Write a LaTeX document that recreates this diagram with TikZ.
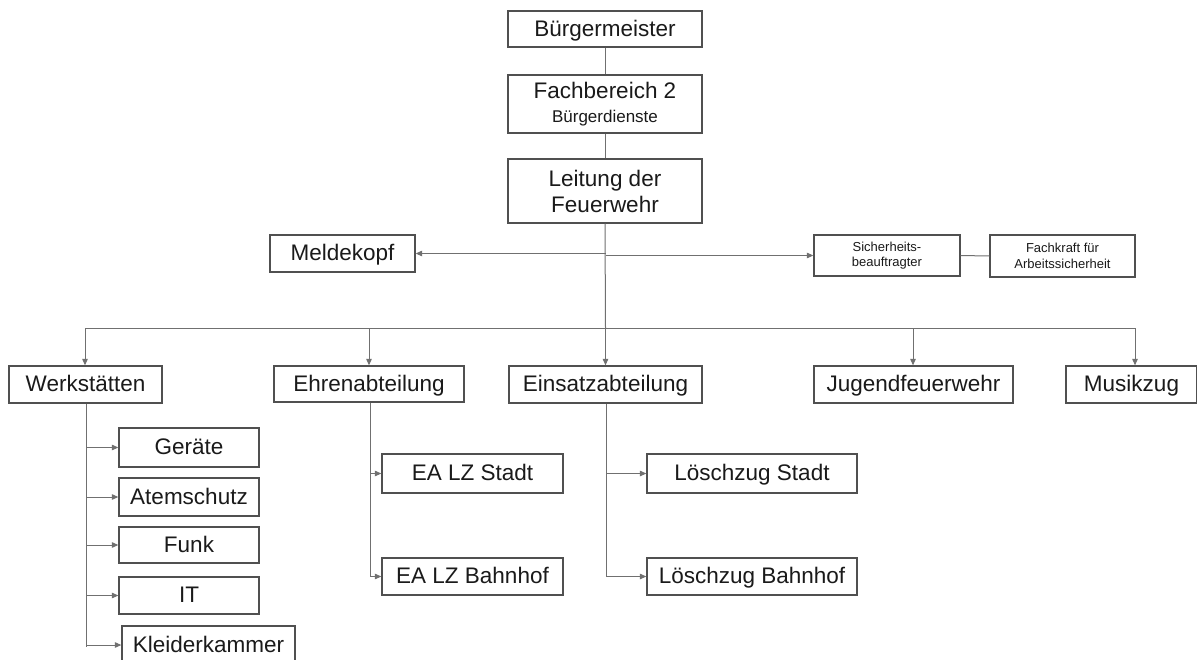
\documentclass[tikz,border=0pt]{standalone}
\usepackage{fontspec}
\setmainfont{Liberation Sans}
\usetikzlibrary{arrows.meta}
\definecolor{boxline}{HTML}{505050}
\definecolor{conline}{HTML}{707070}
\definecolor{txt}{HTML}{1A1A1A}
\begin{document}
\begin{tikzpicture}[x=1pt,y=-1pt,
  box/.style={draw=boxline,line width=1.3pt,fill=white,text=txt,inner sep=0pt,align=center,
    font=\fontsize{22.5}{26}\selectfont},
  one/.style={box,text height=18pt,text depth=4pt},
  smallbox/.style={box,font=\fontsize{13}{15.5}\selectfont},
  con/.style={draw=conline,line width=1pt},
  arr/.style={con,-{Triangle[length=6.5pt,width=5.5pt]}}]
\clip (0,0) rectangle (1197,659);
\fill[white] (0,0) rectangle (1197,659);
% top chain
\node[one,minimum width=194pt,minimum height=36pt] (bm) at (605,29) {Bürgermeister};
\node[box,minimum width=194pt,minimum height=58pt] (fb) at (605,104) {Fachbereich 2\\[-2pt]{\fontsize{17}{19}\selectfont Bürgerdienste}};
\node[box,minimum width=194pt,minimum height=64pt] (lt) at (605,191) {Leitung der\\Feuerwehr};
% staff
\node[one,minimum width=145pt,minimum height=37pt] (mk) at (342.5,253.5) {Meldekopf};
\node[smallbox,minimum width=146pt,minimum height=41pt] (sb) at (887,255.5) {Sicherheits-\\beauftragter};
\node[smallbox,minimum width=145pt,minimum height=42pt] (fk) at (1062.5,256) {Fachkraft für\\Arbeitssicherheit};
% second level
\node[one,minimum width=153pt,minimum height=37pt] (ws) at (85.5,384.5) {Werkstätten};
\node[one,minimum width=190pt,minimum height=36pt] (eh) at (369,384) {Ehrenabteilung};
\node[one,minimum width=193pt,minimum height=37pt] (ei) at (605.5,384.5) {Einsatzabteilung};
\node[one,minimum width=199pt,minimum height=37pt] (jf) at (913.5,384.5) {Jugendfeuerwehr};
\node[one,minimum width=131pt,minimum height=37pt] (mz) at (1131.5,384.5) {Musikzug};
% Werkstätten children
\node[one,minimum width=140pt,minimum height=39pt] (ge) at (189,447.5) {Geräte};
\node[one,minimum width=140pt,minimum height=38pt] (at) at (189,497) {Atemschutz};
\node[one,minimum width=140pt,minimum height=36pt] (fu) at (189,545) {Funk};
\node[one,minimum width=140pt,minimum height=37pt] (it) at (189,595.5) {IT};
\node[one,minimum width=173pt,minimum height=38pt] (kk) at (208.5,645) {Kleiderkammer};
% Ehrenabteilung children
\node[one,minimum width=181pt,minimum height=39pt] (es) at (472.5,473.5) {EA LZ Stadt};
\node[one,minimum width=181pt,minimum height=37pt] (eb) at (472.5,576.5) {EA LZ Bahnhof};
% Einsatzabteilung children
\node[one,minimum width=210pt,minimum height=39pt] (ls) at (752,473.5) {Löschzug Stadt};
\node[one,minimum width=210pt,minimum height=37pt] (lb) at (752,576.5) {Löschzug Bahnhof};
% coordinates
\coordinate (jm) at (605.5,253.5);
\coordinate (js) at (605.5,255.5);
\coordinate (bus0) at (605.5,328);
\coordinate (b1) at (85,328);
\coordinate (b2) at (369,328);
\coordinate (b4) at (913,328);
\coordinate (b5) at (1135,328);
\coordinate (wsb) at (86,647);
\coordinate (ehb) at (370,576.5);
\coordinate (eib) at (606,576.5);
% connectors
\draw[con] (bm.south) -- (fb.north);
\draw[con] (fb.south) -- (lt.north);
\draw[con] (lt.south) -- (bus0);
\draw[arr] (jm) -- (mk.east);
\draw[arr] (js) -- (sb.west);
\draw[con] (sb.east) -- (fk.west);
\draw[con] (b1) -- (b5);
\draw[arr] (b1) -- (b1 |- ws.north);
\draw[arr] (b2) -- (b2 |- eh.north);
\draw[arr] (bus0) -- (ei.north);
\draw[arr] (b4) -- (b4 |- jf.north);
\draw[arr] (b5) -- (b5 |- mz.north);
% Werkstätten tree
\draw[con] (ws.south -| wsb) -- (wsb);
\foreach \n in {ge,at,fu,it,kk}{
  \draw[arr] (wsb |- \n.west) -- (\n.west);
}
% Ehrenabteilung tree
\draw[con] (eh.south -| ehb) -- (ehb);
\draw[arr] (ehb |- es.west) -- (es.west);
\draw[arr] (ehb) -- (eb.west);
% Einsatzabteilung tree
\draw[con] (ei.south -| eib) -- (eib);
\draw[arr] (eib |- ls.west) -- (ls.west);
\draw[arr] (eib) -- (lb.west);
\end{tikzpicture}
\end{document}
